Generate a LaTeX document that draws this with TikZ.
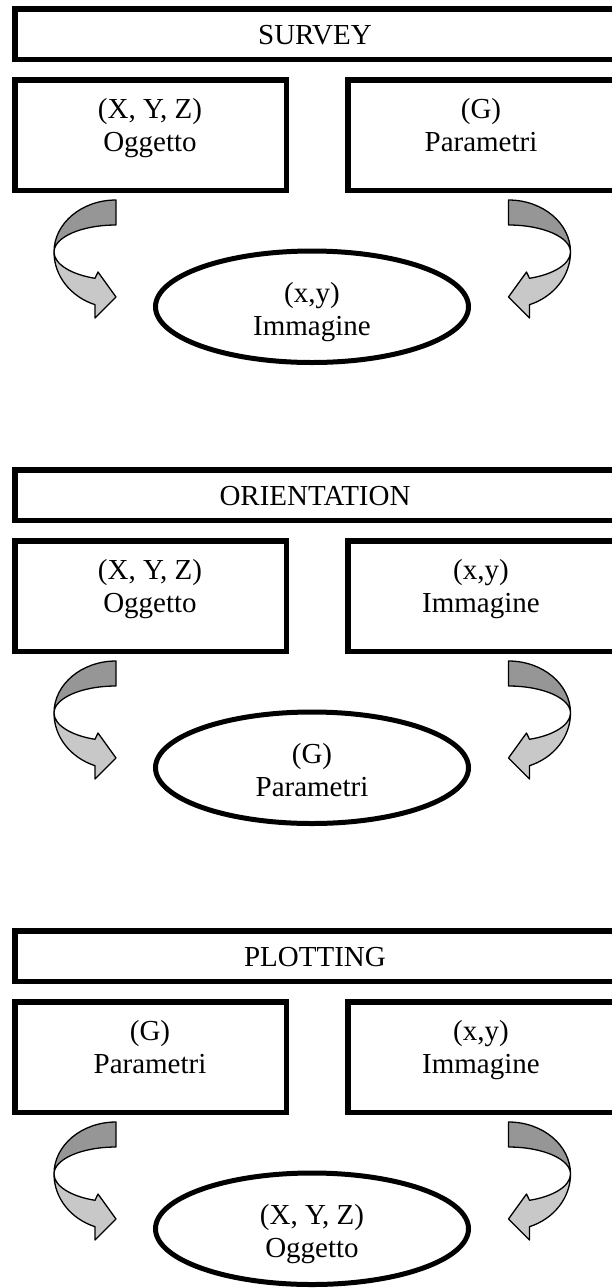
\documentclass[tikz,border=0pt]{standalone}
\usepackage{fontspec}
\setmainfont{Liberation Serif}
\usetikzlibrary{shapes.geometric}
\definecolor{darkband}{RGB}{150,150,150}
\definecolor{lightband}{RGB}{200,200,200}
\tikzset{
  framebox/.style={draw, line width=5.5pt, rectangle, inner sep=0pt},
  titlebox/.style={framebox, minimum width=604.5pt, minimum height=50.5pt},
  sidebox/.style={framebox, minimum width=271.5pt, minimum height=110.5pt},
  oval/.style={draw, line width=5pt, ellipse, inner sep=0pt, minimum width=313pt, minimum height=111.5pt},
  lbl/.style={anchor=base, inner sep=0pt, font=\fontsize{29}{34}\selectfont},
  band/.style={draw, line width=1.3pt, line join=round},
  pics/carrow/.style={code={
    \path[band, fill=darkband] (0,-52) -- (0,-27)
      arc[start angle=270, end angle=180, x radius=62, y radius=27]
      arc[start angle=180, end angle=270, x radius=62, y radius=52] -- cycle;
    \path[band, fill=lightband] (-62,0)
      arc[start angle=180, end angle=109.8, x radius=62, y radius=56]
      -- (-21,66) -- (0,45) -- (-18,20) -- (-21,26.3)
      arc[start angle=109.8, end angle=180, x radius=62, y radius=28] -- cycle;
  }}
}
\newcommand\drawpanel[9]{%
  \begin{scope}[shift={(0,#1)}]
    \node[titlebox] (t#2) at (317,34) {};
    \node[lbl] (t#2txt) at (315,44.5) {#3};
    \node[sidebox] (l#2) at (150.5,135) {};
    \node[lbl] (l#2a) at (150,118.5) {#4};
    \node[lbl] (l#2b) at (150,151) {#5};
    \node[sidebox] (r#2) at (483.5,135) {};
    \node[lbl] (r#2a) at (481,118.5) {#6};
    \node[lbl] (r#2b) at (481,151) {#7};
    \pic[yscale=-1] (al#2) at (116,252) {carrow};
    \pic[xscale=-1,yscale=-1] (ar#2) at (508.5,252) {carrow};
    \node[oval] (e#2) at (312,306.75) {};
    \node[lbl] (e#2a) at (312,302.5) {#8};
    \node[lbl] (e#2b) at (312,335) {#9};
  \end{scope}
}
\begin{document}
\begin{tikzpicture}[x=1pt,y=1pt,yscale=-1]
  \useasboundingbox[fill=white] (0,0) rectangle (612,1288);
  \drawpanel{0}{1}{SURVEY}{(X, Y, Z)}{Oggetto}{(G)}{Parametri}{(x,y)}{Immagine}
  \drawpanel{461}{2}{ORIENTATION}{(X, Y, Z)}{Oggetto}{(x,y)}{Immagine}{(G)}{Parametri}
  \drawpanel{922}{3}{PLOTTING}{(G)}{Parametri}{(x,y)}{Immagine}{(X, Y, Z)}{Oggetto}
\end{tikzpicture}
\end{document}
